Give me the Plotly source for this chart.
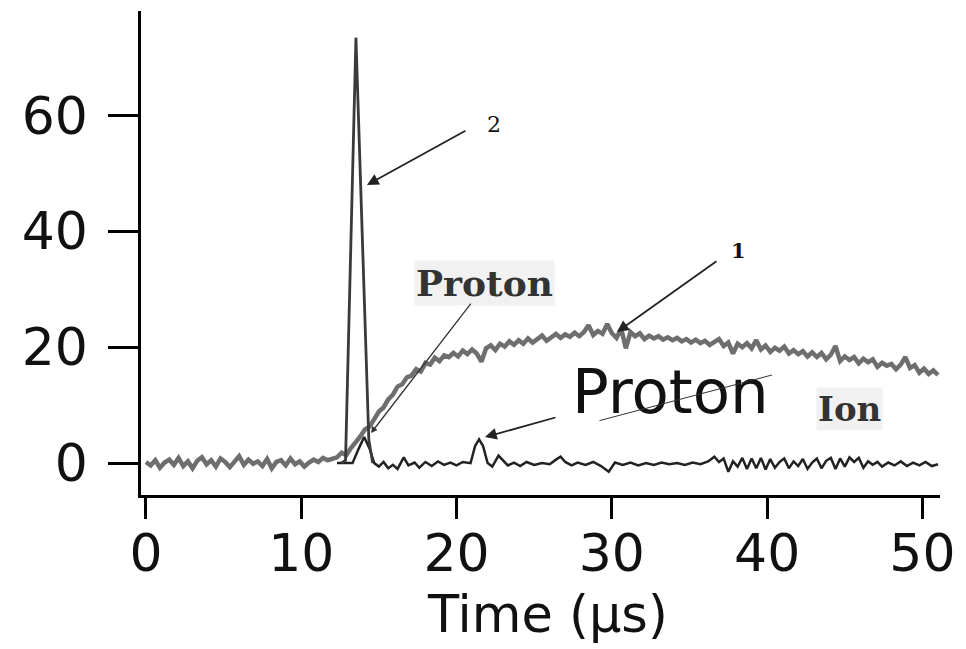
import numpy as np
import plotly.graph_objects as go

# ---- Data ----
# Signal 1 (gray, slow rise) sampled every 0.3 us starting at 0
SIGNAL_1 = [
    0.2, -0.4, 0.5, -0.8, 0.1, 0.6, -0.3, 0.9, -0.5, 0.3,
    -0.9, 0.4, 1.0, -0.2, 0.5, -0.6, 0.8, 0.2, -0.7, 0.4,
    1.2, -0.3, 0.6, -0.1, 0.3, -0.5, 0.7, -0.9, 0.2, 0.5,
    -0.4, 0.8, -0.2, 0.3, -0.6, 0.1, 0.6, 0.2, 0.9, 0.5,
    0.8,
    1.0, 1.8, 1.4, 2.6, 3.5, 4.6, 5.8, 6.3, 7.6, 8.9,
    9.6, 11.0, 11.8, 13.2, 13.6, 14.8, 15.1, 16.2, 15.8, 17.3,
    17.0, 18.2, 17.6, 18.6, 18.3, 19.0, 18.4, 19.4, 18.8, 19.6,
    18.9, 17.5, 19.8, 20.3, 19.5, 20.6, 20.1, 21.0, 20.4, 21.2,
    20.6, 21.5, 20.8, 21.3, 22.0, 21.1, 21.7, 22.3, 21.6, 22.2,
    21.8, 22.5, 21.9, 22.6, 23.8, 22.1, 22.8, 22.3, 24.0, 22.4,
    21.6, 23.2, 19.8, 22.6, 21.9, 22.4, 21.4, 22.0, 21.5, 21.9,
    21.3, 21.7, 21.2, 21.6, 21.0, 21.4, 20.8, 21.3, 20.7, 21.1,
    20.4, 20.9, 21.4, 20.2, 20.8, 18.9, 20.6, 20.0, 20.7, 19.8,
    21.2, 19.6, 20.3, 19.2, 19.9, 19.4, 20.1, 18.9, 19.5, 18.8,
    19.3, 18.4, 19.1, 18.3, 19.0, 17.9, 18.7, 20.2, 17.6, 18.4,
    17.8, 18.3, 17.2, 18.0, 17.4, 17.9, 16.6, 17.3, 16.8, 17.1,
    16.2, 17.0, 18.3, 16.4, 16.9, 15.6, 16.3, 15.4, 16.0, 15.2,
]
TIME_1 = [round(0.3 * i, 2) for i in range(len(SIGNAL_1))]

# Signal 2 (sharp spike)
TIME_2 = [12.6, 12.85, 13.52, 13.9, 14.35, 14.6]
SIGNAL_2 = [0.0, 0.5, 73.4, 40.0, 4.0, 0.0]

# Baseline trace with proton / ion peaks
TIME_ION = [
    12.3, 13.3, 13.7, 14.05, 14.4, 14.7, 15.0, 15.3, 15.6, 15.9,
    16.2, 16.6, 16.9, 17.3, 17.6, 18.0, 18.4, 18.8, 19.2, 19.6,
    20.0, 20.4, 20.9, 21.2, 21.45, 21.7, 22.0, 22.3, 22.7, 23.0,
    23.3, 23.7, 24.1, 24.5, 25.0, 25.5, 26.0, 26.4, 26.7, 27.0,
    27.4, 27.8, 28.3, 28.8, 29.3, 29.8, 30.2, 30.7, 31.2, 31.7,
    32.2, 32.7, 33.2, 33.7, 34.2, 34.7, 35.2, 35.7, 36.2, 36.6,
    36.9, 37.2, 37.5, 37.8, 38.1, 38.4, 38.7, 39.0, 39.3, 39.6,
    39.9, 40.2, 40.5, 40.8, 41.1, 41.4, 41.7, 42.0, 42.3, 42.6,
    42.9, 43.2, 43.5, 43.8, 44.1, 44.4, 44.7, 45.0, 45.3, 45.6,
    45.9, 46.2, 46.5, 46.8, 47.1, 47.4, 47.8, 48.2, 48.6, 49.0,
    49.4, 49.8, 50.2, 50.6, 51.0,
]
SIGNAL_ION = [
    0.0, 0.0, 2.5, 4.5, 2.5, 0.0, -0.6, 0.2, -0.9, -0.3,
    -1.0, 1.0, -0.4, 0.1, -0.8, 0.2, -0.5, 0.3, -0.3, 0.1,
    -0.4, 0.2, 0.0, 3.0, 4.1, 3.0, 0.0, -0.6, 1.3, 0.5,
    -0.4, 0.1, -0.5, 0.2, -0.3, 0.0, -0.2, 0.6, 1.1, 0.2,
    -0.4, 0.1, -0.3, 0.2, -0.5, -1.5, 0.1, -0.3, 0.1, -0.4,
    0.0, -0.3, 0.1, -0.2, 0.0, -0.3, 0.1, -0.2, 0.3, 1.1,
    0.2, 0.8, -1.5, 0.3, -0.6, 0.9, -1.0, 0.8, -0.9, 0.9,
    -1.1, 0.7, -0.8, 0.2, 0.8, -0.9, 0.3, -0.5, 0.7, -1.0,
    0.1, 0.8, -0.9, 0.4, 0.9, -1.0, 0.8, -0.6, 1.0, 0.2,
    0.9, -0.8, 0.3, -0.3, 0.2, -0.6, 0.1, -0.4, 0.3, -0.5,
    0.1, -0.4, 0.2, -0.5, -0.2,
]

X_TICKS = [0, 10, 20, 30, 40, 50]
Y_TICKS = [0, 20, 40, 60]

fig = go.Figure()
fig.add_trace(go.Scatter(x=TIME_1, y=SIGNAL_1, mode="lines",
                         line=dict(color="#6e6e6e", width=4.5), showlegend=False))
fig.add_trace(go.Scatter(x=TIME_ION, y=SIGNAL_ION, mode="lines",
                         line=dict(color="#222222", width=2.5), showlegend=False))
fig.add_trace(go.Scatter(x=TIME_2, y=SIGNAL_2, mode="lines",
                         line=dict(color="#3a3a3a", width=2.8), showlegend=False))

serif = "DejaVu Serif"
sans = "DejaVu Sans"

ann = []
# label 2 and arrow
ann.append(dict(x=22.41, y=58.5, text="2", showarrow=False,
                font=dict(family=serif, size=22, color="#111")))
ann.append(dict(x=14.23, y=48.0, ax=100, ay=-55, axref="pixel", ayref="pixel",
                text="", showarrow=True, arrowhead=2, arrowsize=1.3, arrowwidth=1.8,
                arrowcolor="#222"))
# label 1 and arrow
ann.append(dict(x=38.18, y=36.6, text="<b>1</b>", showarrow=False,
                font=dict(family=serif, size=21, color="#111")))
ann.append(dict(x=30.33, y=22.6, ax=101, ay=-72, axref="pixel", ayref="pixel",
                text="", showarrow=True, arrowhead=2, arrowsize=1.3, arrowwidth=1.8,
                arrowcolor="#222"))
# serif Proton label
ann.append(dict(x=21.83, y=31.1, text="<b>Proton</b>", showarrow=False,
                bgcolor="rgba(225,225,225,0.45)",
                font=dict(family=serif, size=36, color="#333")))
ann.append(dict(x=14.49, y=5.18, ax=101, ay=-131, axref="pixel", ayref="pixel",
                text="", showarrow=True, arrowhead=2, arrowsize=1.0, arrowwidth=1.3,
                arrowcolor="#333"))
# large Proton label
ann.append(dict(x=33.8, y=12.3, text="Proton", showarrow=False,
                font=dict(family=sans, size=61, color="#111")))
ann.append(dict(x=21.83, y=4.49, ax=72, ay=-20, axref="pixel", ayref="pixel",
                text="", showarrow=True, arrowhead=2, arrowsize=1.3, arrowwidth=1.8,
                arrowcolor="#222"))
ann.append(dict(x=40.31, y=15.2, ax=-174, ay=46, axref="pixel", ayref="pixel",
                text="", showarrow=True, arrowhead=0, arrowwidth=1.0,
                arrowcolor="#333"))
# Ion label
ann.append(dict(x=45.33, y=9.3, text="<b>Ion</b>", showarrow=False,
                bgcolor="rgba(225,225,225,0.45)",
                font=dict(family=serif, size=34, color="#333")))
# x-axis title
ann.append(dict(x=0.509, y=-0.246, xref="paper", yref="paper",
                xanchor="center", yanchor="middle", showarrow=False,
                text="Time (µs)", font=dict(family=sans, size=51, color="#111")))

fig.update_layout(
    width=966, height=649,
    margin=dict(l=141, r=26, t=11, b=154),
    paper_bgcolor="white", plot_bgcolor="white",
    annotations=ann,
    xaxis=dict(range=[-0.32, 51.13], tickvals=X_TICKS, ticks="outside",
               ticklen=21, tickwidth=2.5, tickcolor="black",
               showline=True, linecolor="black", linewidth=2.5,
               showgrid=False, zeroline=False, ticklabelstandoff=-10,
               automargin=False,
               tickfont=dict(family=sans, size=52, color="#111")),
    yaxis=dict(range=[-5.5, 78], tickvals=Y_TICKS, ticks="outside",
               ticklen=30, tickwidth=2.5, tickcolor="black",
               showline=True, linecolor="black", linewidth=2.5,
               showgrid=False, zeroline=False, ticklabelstandoff=10,
               automargin=False,
               tickfont=dict(family=sans, size=52, color="#111")),
)

fig.write_html("out.html")
